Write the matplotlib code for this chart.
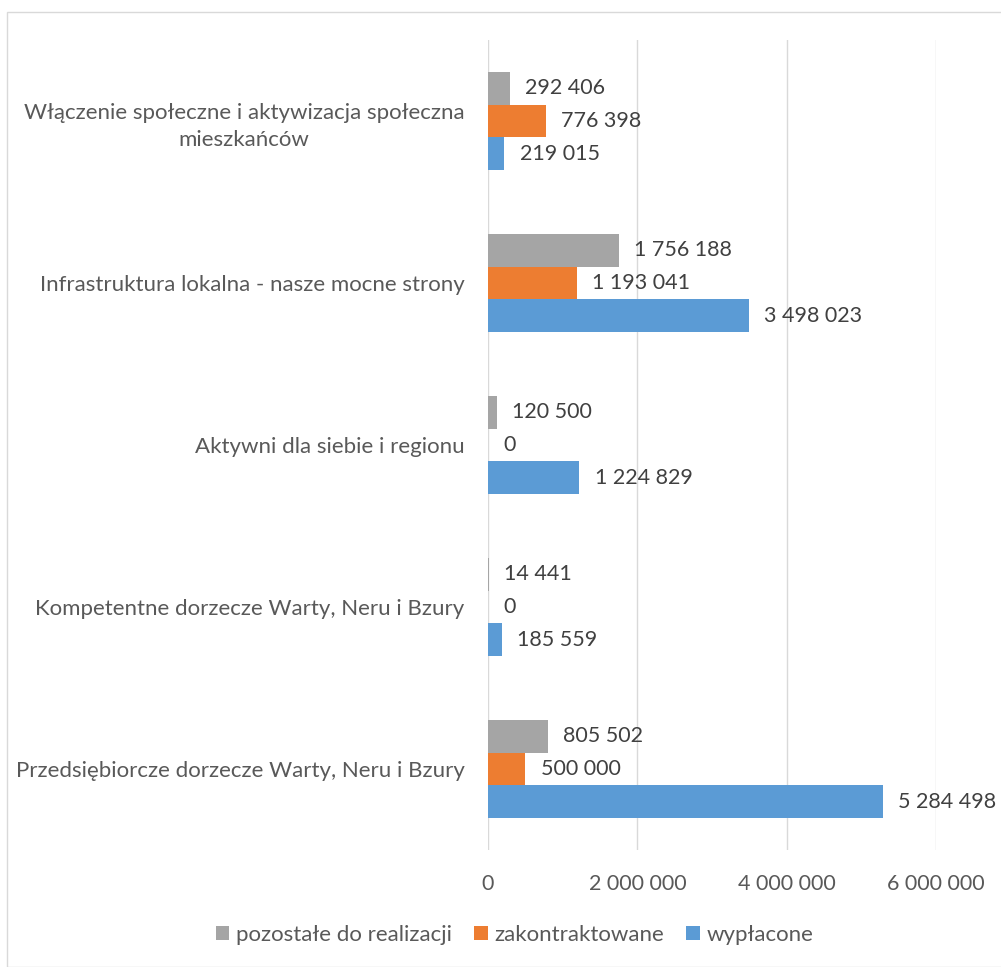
import numpy as np
import matplotlib.pyplot as plt
from matplotlib.patches import Rectangle

# dane
kategorie = ["Przedsiębiorcze dorzecze Warty, Neru i Bzury",
             "Kompetentne dorzecze Warty, Neru i Bzury",
             "Aktywni dla siebie i regionu",
             "Infrastruktura lokalna - nasze mocne strony",
             "Włączenie społeczne i aktywizacja społeczna\nmieszkańców"]
wyplacone = [5284498, 185559, 1224829, 3498023, 219015]
zakontraktowane = [500000, 0, 0, 1193041, 776398]
pozostale = [805502, 14441, 120500, 1756188, 292406]
xticks = [0, 2000000, 4000000, 6000000]

plt.rcParams['font.family'] = ['Lato', 'DejaVu Sans']
txt = '#595959'
fs = 15.5

fig = plt.figure(figsize=(10.01, 9.67), dpi=100)
ax = fig.add_axes([488/1001, 1 - 850/967, 448/1001, 810/967])

# ramka wykresu
fig.patches.append(Rectangle((7/1001, 0), 1.2, 1 - 12/967, transform=fig.transFigure,
                             fill=False, edgecolor='#D9D9D9', lw=1))

y = np.arange(len(kategorie))
h = 0.203
serie = [(wyplacone, '#5B9BD5', 'wypłacone', -h),
         (zakontraktowane, '#ED7D31', 'zakontraktowane', 0),
         (pozostale, '#A5A5A5', 'pozostałe do realizacji', h)]

def fmt(v):
    return f"{v:,}".replace(",", " ")

for vals, col, lab, off in serie:
    ax.barh(y + off, vals, height=h, color=col, label=lab, zorder=2)
    for yi, v in zip(y, vals):
        ax.annotate(fmt(v), (v, yi + off), xytext=(11, 0), textcoords='offset points',
                    va='center', ha='left', fontsize=fs, color='#404040', clip_on=False)

ax.set_xlim(0, 6000000)
ax.set_ylim(-0.5, len(kategorie) - 0.5)
ax.set_xticks(xticks)
ax.set_xticklabels([fmt(v) for v in xticks], fontsize=fs, color=txt)
ax.set_yticks(y)
ax.set_yticklabels(kategorie, fontsize=16, color=txt, ha='right',
                   multialignment='center', linespacing=1.45)
ax.tick_params(axis='y', length=0, pad=17)
ax.tick_params(axis='x', length=0, pad=17)
ax.grid(axis='x', color='#D9D9D9', lw=1, zorder=0)
for s in ax.spines.values():
    s.set_visible(False)

handles, labels = ax.get_legend_handles_labels()
fig.legend(handles[::-1], labels[::-1], loc='center', bbox_to_anchor=(0.514, 1 - 935/967),
           ncol=3, frameon=False, fontsize=16, labelcolor=txt, handlelength=0.6,
           handleheight=0.6, handletextpad=0.3, columnspacing=1.0)

fig.savefig('out.png', dpi=100)
